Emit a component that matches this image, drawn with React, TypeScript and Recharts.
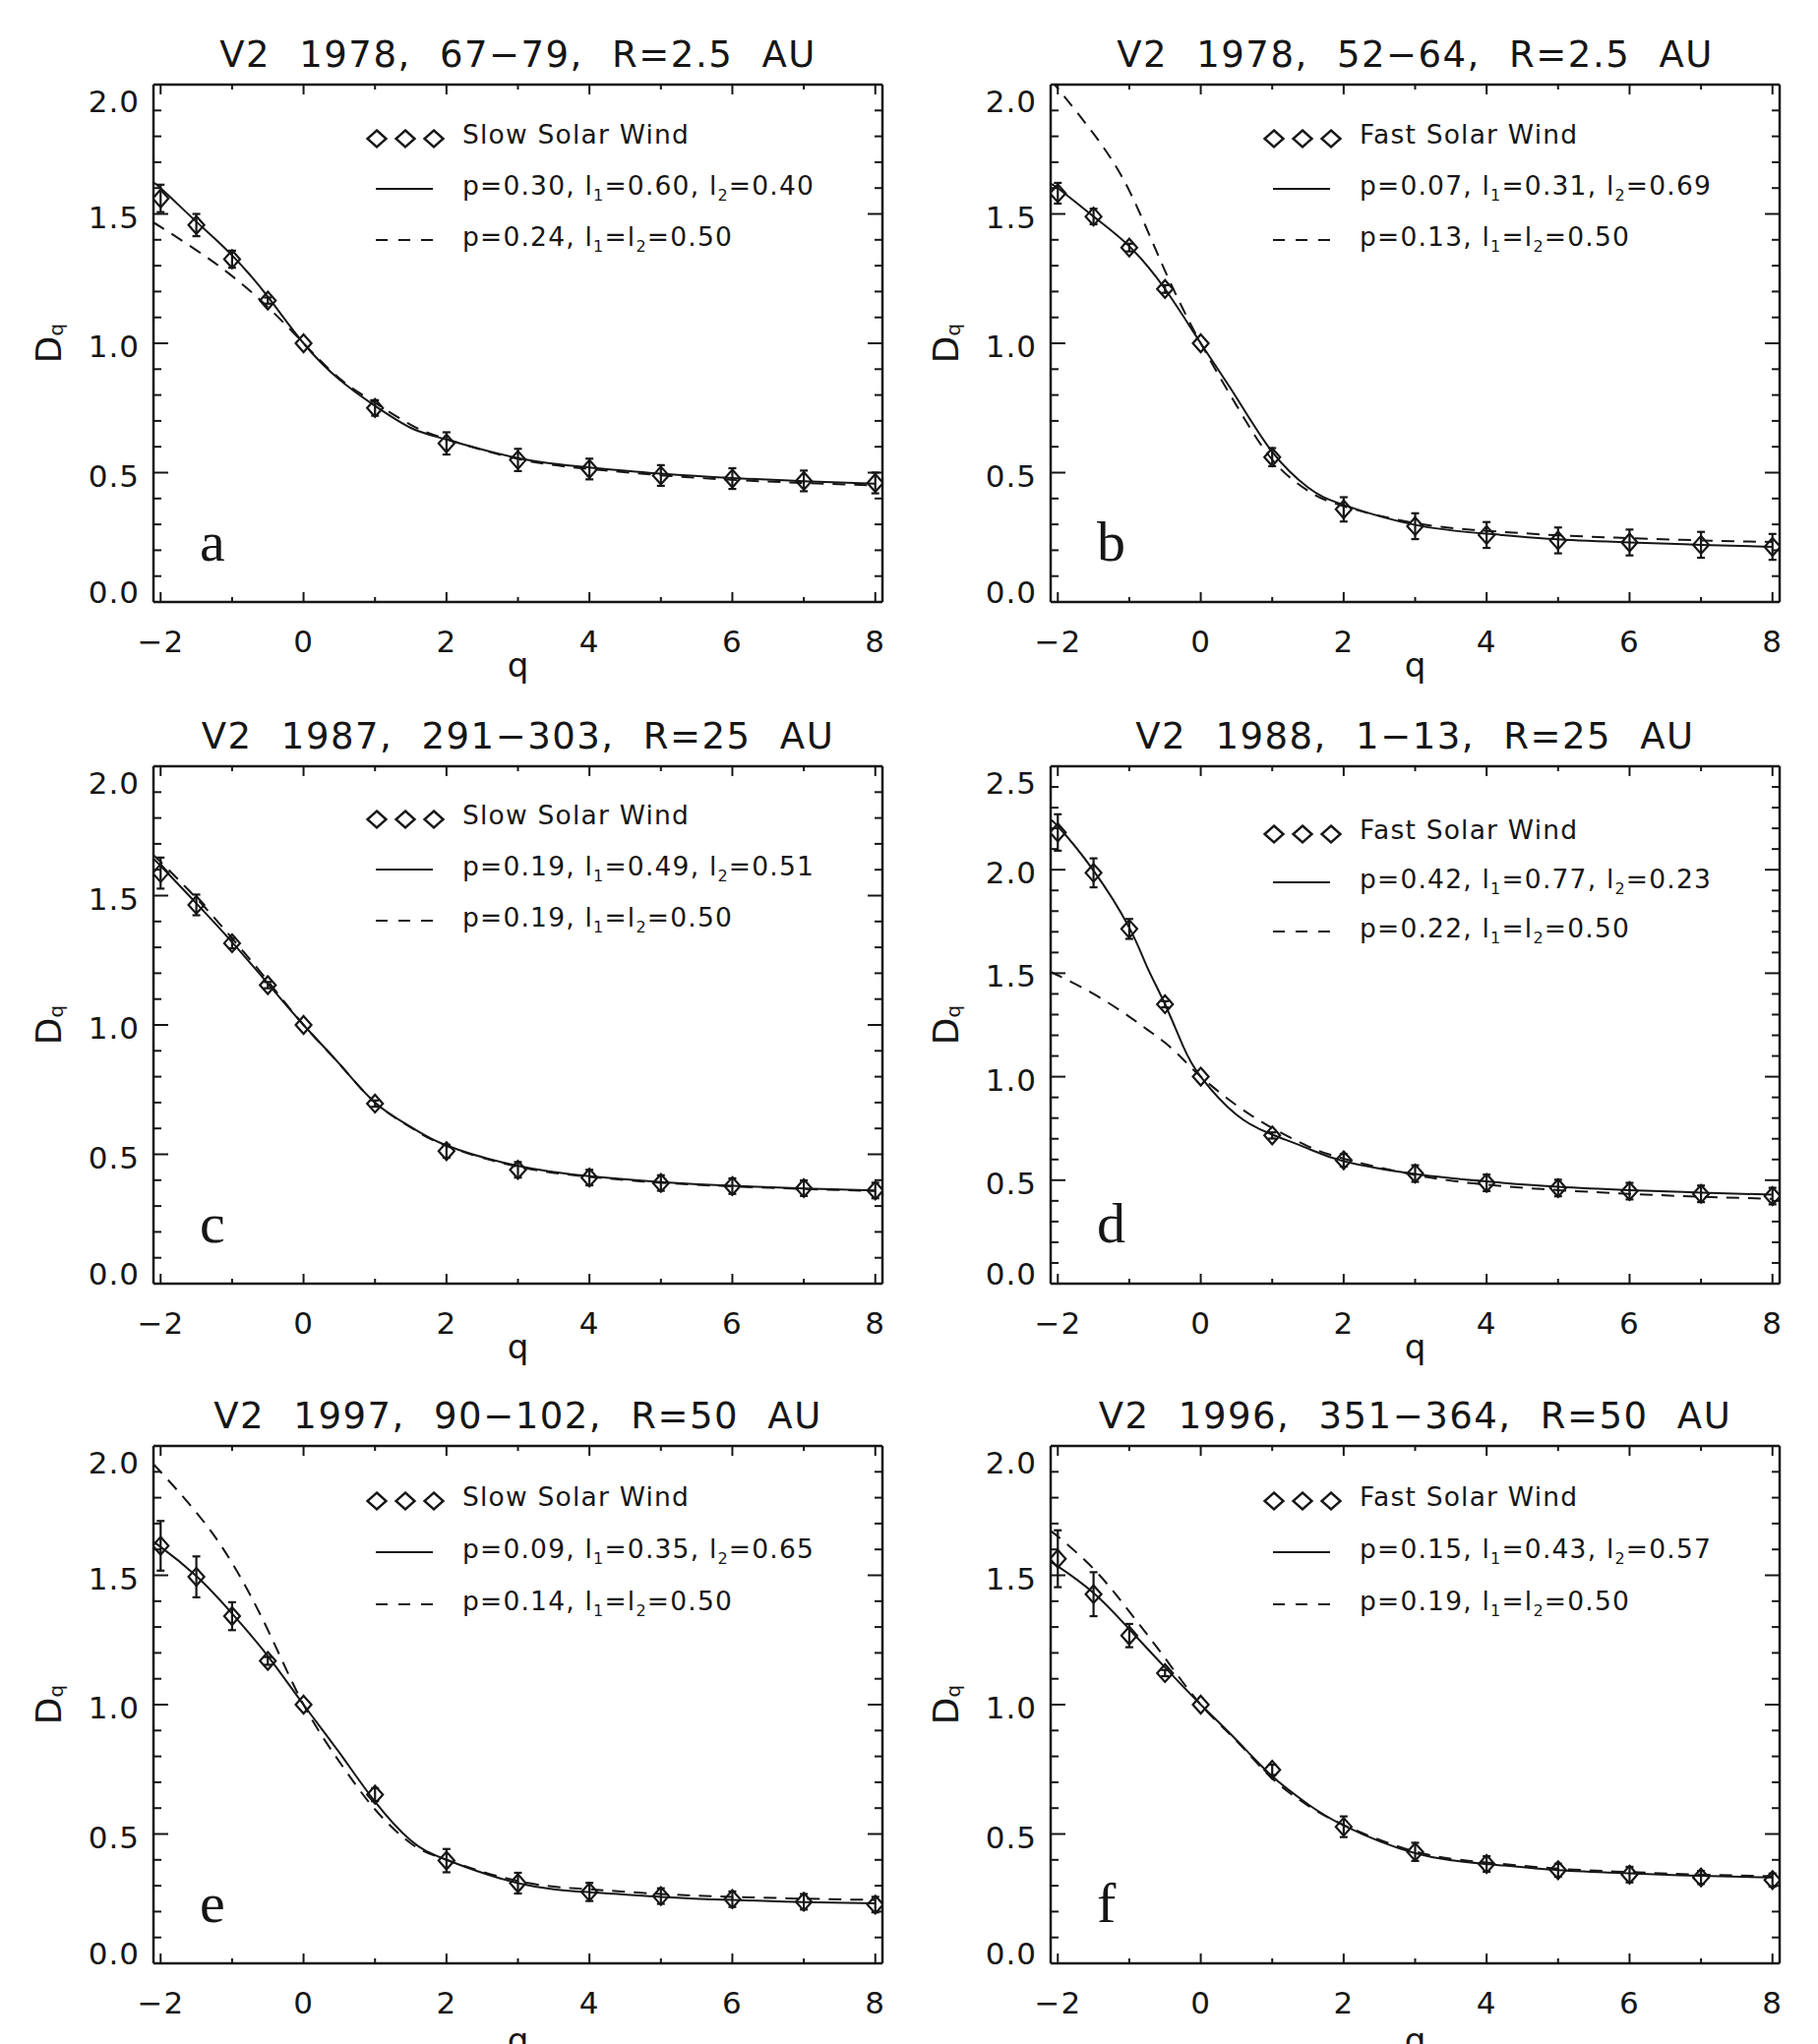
import React from "react";
import { ComposedChart, Line, Scatter, ErrorBar, XAxis, YAxis, Legend } from "recharts";

// q grid for the model curves (starting at the frame edge) and for the measured points
const curveQ = [-2.1, -2, -1.5, -1, -0.5, 0, 0.5, 1, 1.5, 2, 3, 4, 5, 6, 7, 8];
const curveQD = [-2.1, -2, -1.5, -1, -0.75, -0.5, -0.25, 0, 0.5, 1, 1.5, 2, 3, 4, 5, 6, 7, 8];
const pointQ = [-2, -1.5, -1, -0.5, 0, 1, 2, 3, 4, 5, 6, 7, 8];
const xTicks = [-2, -1, 0, 1, 2, 3, 4, 5, 6, 7, 8];
const yTicks20 = [0, 0.1, 0.2, 0.3, 0.4, 0.5, 0.6, 0.7, 0.8, 0.9, 1.0, 1.1, 1.2, 1.3, 1.4, 1.5, 1.6, 1.7, 1.8, 1.9, 2.0];
const yTicks25 = [...yTicks20, 2.1, 2.2, 2.3, 2.4, 2.5];

// a
const titleA = "V2 1978, 67−79, R=2.5 AU";
const windA = "Slow Solar Wind";
const fitA = ["0.30", "0.60", "0.40"];
const fitEqA = "0.24";
const dqA = [1.56, 1.457, 1.325, 1.165, 1.0, 0.75, 0.613, 0.549, 0.514, 0.489, 0.477, 0.468, 0.46];
const errA = [0.053, 0.043, 0.033, 0.012, 0, 0.03, 0.043, 0.043, 0.04, 0.04, 0.04, 0.04, 0.04];
const solidA = [1.615, 1.6, 1.47, 1.34, 1.18, 1.0, 0.86, 0.758, 0.673, 0.628, 0.556, 0.52, 0.496, 0.479, 0.467, 0.457];
const dashA = [1.465, 1.45, 1.36, 1.26, 1.14, 1.0, 0.865, 0.77, 0.685, 0.63, 0.553, 0.514, 0.49, 0.472, 0.46, 0.451];

// b
const titleB = "V2 1978, 52−64, R=2.5 AU";
const windB = "Fast Solar Wind";
const fitB = ["0.07", "0.31", "0.69"];
const fitEqB = "0.13";
const dqB = [1.58, 1.49, 1.37, 1.21, 1.0, 0.56, 0.358, 0.293, 0.259, 0.238, 0.23, 0.221, 0.213];
const errB = [0.04, 0.03, 0.015, 0.015, 0, 0.035, 0.047, 0.05, 0.05, 0.05, 0.05, 0.05, 0.05];
const solidB = [1.61, 1.6, 1.49, 1.375, 1.21, 1.0, 0.79, 0.58, 0.443, 0.375, 0.298, 0.264, 0.242, 0.23, 0.221, 0.213];
const dashB = [2.02, 1.985, 1.81, 1.59, 1.28, 1.0, 0.76, 0.55, 0.43, 0.37, 0.305, 0.275, 0.258, 0.247, 0.238, 0.232];

// c
const titleC = "V2 1987, 291−303, R=25 AU";
const windC = "Slow Solar Wind";
const fitC = ["0.19", "0.49", "0.51"];
const fitEqC = "0.19";
const dqC = [1.587, 1.464, 1.316, 1.154, 1.0, 0.696, 0.512, 0.44, 0.41, 0.389, 0.377, 0.369, 0.36];
const errC = [0.06, 0.04, 0.02, 0.012, 0, 0.012, 0.025, 0.03, 0.03, 0.03, 0.03, 0.03, 0.03];
const solidC = [1.64, 1.615, 1.47, 1.32, 1.16, 1.0, 0.85, 0.7, 0.606, 0.534, 0.455, 0.415, 0.393, 0.378, 0.368, 0.36];
const dashC = [1.655, 1.63, 1.49, 1.335, 1.17, 1.0, 0.85, 0.7, 0.604, 0.532, 0.452, 0.413, 0.39, 0.376, 0.366, 0.358];

// d (denser curve grid around the steep part)
const titleD = "V2 1988, 1−13, R=25 AU";
const windD = "Fast Solar Wind";
const fitD = ["0.42", "0.77", "0.23"];
const fitEqD = "0.22";
const dqD = [2.18, 1.985, 1.714, 1.35, 1.0, 0.716, 0.596, 0.532, 0.487, 0.462, 0.447, 0.434, 0.423];
const errD = [0.088, 0.07, 0.048, 0.015, 0, 0.015, 0.03, 0.04, 0.04, 0.04, 0.04, 0.04, 0.04];
const solidD = [2.235, 2.21, 1.996, 1.72, 1.53, 1.35, 1.15, 1.0, 0.816, 0.72, 0.653, 0.592, 0.53, 0.494, 0.468, 0.452, 0.44, 0.43];
const dashD = [1.505, 1.49, 1.4, 1.29, 1.228, 1.164, 1.085, 1.0, 0.862, 0.752, 0.664, 0.604, 0.525, 0.478, 0.452, 0.434, 0.42, 0.41];

// e
const titleE = "V2 1997, 90−102, R=50 AU";
const windE = "Slow Solar Wind";
const fitE = ["0.09", "0.35", "0.65"];
const fitEqE = "0.14";
const dqE = [1.614, 1.494, 1.342, 1.169, 1.0, 0.652, 0.397, 0.31, 0.276, 0.26, 0.248, 0.238, 0.227];
const errE = [0.096, 0.079, 0.054, 0.015, 0, 0.025, 0.045, 0.04, 0.035, 0.03, 0.03, 0.03, 0.03];
const solidE = [1.625, 1.61, 1.497, 1.352, 1.188, 1.0, 0.815, 0.625, 0.475, 0.4, 0.31, 0.275, 0.257, 0.245, 0.237, 0.232];
const dashE = [1.93, 1.9, 1.743, 1.548, 1.289, 1.0, 0.78, 0.595, 0.464, 0.4, 0.318, 0.286, 0.268, 0.257, 0.25, 0.245];

// f
const titleF = "V2 1996, 351−364, R=50 AU";
const windF = "Fast Solar Wind";
const fitF = ["0.15", "0.43", "0.57"];
const fitEqF = "0.19";
const dqF = [1.564, 1.427, 1.267, 1.122, 1.0, 0.748, 0.528, 0.431, 0.384, 0.36, 0.343, 0.332, 0.322];
const errF = [0.11, 0.085, 0.045, 0.012, 0, 0.02, 0.04, 0.035, 0.03, 0.025, 0.03, 0.025, 0.025];
const solidF = [1.55, 1.535, 1.432, 1.292, 1.144, 1.0, 0.863, 0.723, 0.615, 0.533, 0.426, 0.384, 0.36, 0.348, 0.338, 0.332];
const dashF = [1.67, 1.65, 1.525, 1.36, 1.18, 1.0, 0.86, 0.715, 0.61, 0.535, 0.432, 0.39, 0.366, 0.353, 0.343, 0.337];

const INK = "#161616";
const SANS = "'DejaVu Sans', sans-serif";
const SERIF = "'Liberation Serif', 'DejaVu Serif', serif";

const CW = 924; // chart box width
const PW = 741; // plot width
const PH = 526; // plot height
const PT = 86; // plot top inside chart box
const rowTops = [0, 693, 1384];
const frame = { stroke: INK, strokeWidth: 2.5 };

type PanelDef = {
  letter: string;
  col: number;
  row: number;
  title: string;
  wind: string;
  fit: string[];
  fitEq: string;
  cq: number[];
  dq: number[];
  err: number[];
  solid: number[];
  dash: number[];
  yMax: number;
  yTicks: number[];
  legendDy: number;
  legendGap: number;
};

const panels: PanelDef[] = [
  { letter: "a", col: 0, row: 0, title: titleA, wind: windA, fit: fitA, fitEq: fitEqA, cq: curveQ, dq: dqA, err: errA, solid: solidA, dash: dashA, yMax: 2, yTicks: yTicks20, legendDy: 0, legendGap: 52 },
  { letter: "b", col: 1, row: 0, title: titleB, wind: windB, fit: fitB, fitEq: fitEqB, cq: curveQ, dq: dqB, err: errB, solid: solidB, dash: dashB, yMax: 2, yTicks: yTicks20, legendDy: 0, legendGap: 52 },
  { letter: "c", col: 0, row: 1, title: titleC, wind: windC, fit: fitC, fitEq: fitEqC, cq: curveQ, dq: dqC, err: errC, solid: solidC, dash: dashC, yMax: 2, yTicks: yTicks20, legendDy: -1, legendGap: 52 },
  { letter: "d", col: 1, row: 1, title: titleD, wind: windD, fit: fitD, fitEq: fitEqD, cq: curveQD, dq: dqD, err: errD, solid: solidD, dash: dashD, yMax: 2.5, yTicks: yTicks25, legendDy: 14, legendGap: 50 },
  { letter: "e", col: 0, row: 2, title: titleE, wind: windE, fit: fitE, fitEq: fitEqE, cq: curveQ, dq: dqE, err: errE, solid: solidE, dash: dashE, yMax: 2, yTicks: yTicks20, legendDy: 1, legendGap: 53 },
  { letter: "f", col: 1, row: 2, title: titleF, wind: windF, fit: fitF, fitEq: fitEqF, cq: curveQ, dq: dqF, err: errF, solid: solidF, dash: dashF, yMax: 2, yTicks: yTicks20, legendDy: 1, legendGap: 53 },
];

const fmtX = (v: number) => (v < 0 ? `\u2212${-v}` : `${v}`);

function XTick(props: any) {
  const { x, y, payload, side } = props;
  const v = Number(payload.value);
  const major = Math.abs(v % 2) < 1e-6;
  const dir = side === "top" ? 1 : -1;
  return (
    <g>
      <line x1={x} x2={x} y1={y} y2={y + dir * (major ? 10 : 5)} stroke={INK} strokeWidth={2} />
      {side === "bottom" && major ? (
        <text x={x} y={y + 51} textAnchor="middle" fontFamily={SANS} fontSize={31} letterSpacing={1} fill={INK}>
          {fmtX(v)}
        </text>
      ) : null}
    </g>
  );
}

function YTick(props: any) {
  const { x, y, payload, side, yMax } = props;
  const v = Number(payload.value);
  const major = Math.abs(v * 2 - Math.round(v * 2)) < 1e-6;
  const dir = side === "left" ? 1 : -1;
  let base = y + 14;
  if (Math.abs(v - yMax) < 1e-6) base = y + 28;
  if (Math.abs(v) < 1e-6) base = y + 1;
  return (
    <g>
      <line x1={x} x2={x + dir * (major ? 15 : 8)} y1={y} y2={y} stroke={INK} strokeWidth={2} />
      {side === "left" && major ? (
        <text x={x - 14} y={base} textAnchor="end" fontFamily={SANS} fontSize={31} letterSpacing={1} fill={INK}>
          {v.toFixed(1)}
        </text>
      ) : null}
    </g>
  );
}

function Diamond(props: any) {
  const { cx, cy } = props;
  if (cx == null || cy == null) return null;
  return (
    <path
      d={`M${cx},${cy - 9}L${cx + 8},${cy}L${cx},${cy + 9}L${cx - 8},${cy}Z`}
      fill="none"
      stroke={INK}
      strokeWidth={2.2}
    />
  );
}

function PanelLegend({ def }: { def: PanelDef }) {
  const b1 = 40 + def.legendDy;
  const b2 = b1 + def.legendGap;
  const b3 = b2 + def.legendGap;
  const dia = (cx: number, cy: number) => `M${cx},${cy - 8.5}L${cx + 9.5},${cy}L${cx},${cy + 8.5}L${cx - 9.5},${cy}Z`;
  const txt = { fontFamily: SANS, fontSize: 26.5, letterSpacing: 1.2, fill: INK };
  const sub = 16;
  return (
    <svg width={540} height={200} style={{ display: "block", overflow: "visible" }}>
      {[17, 46, 75].map((cx) => (
        <path key={cx} d={dia(cx, b1 - 5)} fill="none" stroke={INK} strokeWidth={2.4} />
      ))}
      <text x={104} y={b1} {...txt}>{def.wind}</text>
      <line x1={16} x2={74} y1={b2 - 6} y2={b2 - 6} stroke={INK} strokeWidth={2} />
      <text x={104} y={b2} {...txt}>
        {`p=${def.fit[0]}, l`}
        <tspan dy={6} fontSize={sub}>1</tspan>
        <tspan dy={-6}>{`=${def.fit[1]}, l`}</tspan>
        <tspan dy={6} fontSize={sub}>2</tspan>
        <tspan dy={-6}>{`=${def.fit[2]}`}</tspan>
      </text>
      <line x1={16} x2={74} y1={b3 - 6} y2={b3 - 6} stroke={INK} strokeWidth={2} strokeDasharray="12 11" />
      <text x={104} y={b3} {...txt}>
        {`p=${def.fitEq}, l`}
        <tspan dy={6} fontSize={sub}>1</tspan>
        <tspan dy={-6}>=l</tspan>
        <tspan dy={6} fontSize={sub}>2</tspan>
        <tspan dy={-6}>=0.50</tspan>
      </text>
    </svg>
  );
}

function Panel({ def }: { def: PanelDef }) {
  const left = def.col === 0 ? 0 : CW;
  const top = rowTops[def.row];
  const ch = def.row === 2 ? 694 : 693;
  const pl = def.col === 0 ? 156 : 144;
  const margin = { left: pl - 1, right: CW - pl - PW - 1, top: PT - 1, bottom: ch - PT - PH - 1 };
  const curve = def.cq.map((q, i) => ({ q, solid: def.solid[i], dash: def.dash[i] }));
  const pts = pointQ.map((q, i) => ({ q, dq: def.dq[i], err: def.err[i] }));
  const yDomain: [number, number] = [0, def.yMax];
  const pb = PT + PH;
  const qLabelY = def.row === 2 ? pb + 90 : pb + 76;

  return (
    <div style={{ position: "absolute", left, top, width: CW, height: ch }}>
      <ComposedChart width={CW} height={ch} data={curve} margin={margin}>
        <XAxis
          dataKey="q"
          type="number"
          domain={[-2.1, 8.1]}
          allowDataOverflow
          ticks={xTicks}
          interval={0}
          height={1}
          tickSize={0}
          tickMargin={0}
          axisLine={frame}
          tickLine={false}
          tick={(p: any) => <XTick {...p} side="bottom" />}
        />
        <XAxis
          xAxisId="top"
          orientation="top"
          dataKey="q"
          type="number"
          domain={[-2.1, 8.1]}
          allowDataOverflow
          ticks={xTicks}
          interval={0}
          height={1}
          tickSize={0}
          tickMargin={0}
          axisLine={frame}
          tickLine={false}
          tick={(p: any) => <XTick {...p} side="top" />}
        />
        <YAxis
          type="number"
          domain={yDomain}
          allowDataOverflow
          ticks={def.yTicks}
          interval={0}
          width={1}
          tickSize={0}
          tickMargin={0}
          axisLine={frame}
          tickLine={false}
          tick={(p: any) => <YTick {...p} side="left" yMax={def.yMax} />}
        />
        <YAxis
          yAxisId="right"
          orientation="right"
          type="number"
          domain={yDomain}
          allowDataOverflow
          ticks={def.yTicks}
          interval={0}
          width={1}
          tickSize={0}
          tickMargin={0}
          axisLine={frame}
          tickLine={false}
          tick={(p: any) => <YTick {...p} side="right" yMax={def.yMax} />}
        />
        <Legend
          layout="horizontal"
          verticalAlign="middle"
          align="center"
          width={540}
          height={200}
          wrapperStyle={{ top: PT + 20, left: pl + 210, width: 540, height: 200 }}
          content={() => <PanelLegend def={def} />}
        />
        <Line
          type="natural"
          dataKey="dash"
          stroke={INK}
          strokeWidth={2}
          strokeDasharray="13 9"
          dot={false}
          activeDot={false}
          isAnimationActive={false}
        />
        <Line
          type="natural"
          dataKey="solid"
          stroke={INK}
          strokeWidth={2}
          dot={false}
          activeDot={false}
          isAnimationActive={false}
        />
        <Scatter data={pts} dataKey="dq" shape={Diamond} isAnimationActive={false}>
          <ErrorBar dataKey="err" direction="y" width={4} stroke={INK} strokeWidth={2.2} isAnimationActive={false} />
        </Scatter>
      </ComposedChart>
      <svg
        width={CW}
        height={ch}
        style={{ position: "absolute", left: 0, top: 0, pointerEvents: "none", overflow: "visible" }}
      >
        <text
          x={pl + PW / 2}
          y={68}
          textAnchor="middle"
          fontFamily={SANS}
          fontSize={37}
          letterSpacing={1.5}
          wordSpacing={16}
          fill={INK}
        >
          {def.title}
        </text>
        <text
          x={pl - 94}
          y={PT + PH / 2}
          transform={`rotate(-90 ${pl - 94} ${PT + PH / 2})`}
          textAnchor="middle"
          fontFamily={SANS}
          fontSize={36}
          fill={INK}
        >
          D<tspan fontSize={20} dy={2}>q</tspan>
        </text>
        <text x={pl + PW / 2} y={qLabelY} textAnchor="middle" fontFamily={SANS} fontSize={34} fill={INK}>
          q
        </text>
        <text x={pl + 47} y={pb - 42} fontFamily={SERIF} fontSize={58} fill={INK}>
          {def.letter}
        </text>
      </svg>
    </div>
  );
}

export default function App() {
  return (
    <div
      style={{
        position: "absolute",
        left: 0,
        top: 0,
        width: 1848,
        height: 2078,
        overflow: "hidden",
        background: "#fff",
      }}
    >
      {panels.map((p) => (
        <Panel key={p.letter} def={p} />
      ))}
    </div>
  );
}
